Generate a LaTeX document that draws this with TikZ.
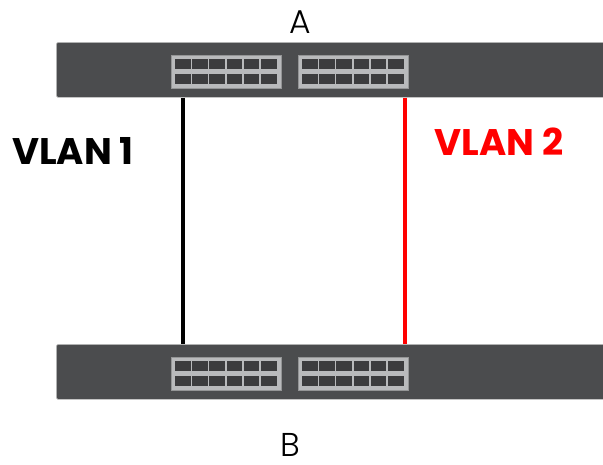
\documentclass[tikz,border=0pt]{standalone}
\usepackage{fontspec}
\setmainfont{Poppins}
\newfontfamily\lightfont{Poppins Light}
\usetikzlibrary{calc}
\definecolor{swgray}{HTML}{4B4C4E}
\definecolor{blkgray}{HTML}{B9BABC}
\definecolor{portgray}{HTML}{3C3C3E}
\tikzset{
switchbox/.style={fill=swgray,draw=black!22,line width=0.6pt,rounded corners=1.5pt,minimum width=550pt,minimum height=55pt,anchor=north west,inner sep=0pt},
portblock/.style={fill=blkgray,draw=blkgray!80!black,line width=0.3pt},
port/.style={fill=portgray},
vlanlabel/.style={font=\fontsize{37}{40}\selectfont\bfseries},
endlabel/.style={font=\fontsize{33}{36}\selectfont\lightfont,inner sep=0pt},
}
\begin{document}
\begin{tikzpicture}[x=1pt,y=-1pt]
\useasboundingbox (0,0) rectangle (603,464);
\node[switchbox] (swA) at (56,42) {};
\node[switchbox] (swB) at (56,344) {};
\foreach \y in {55,357} {
\foreach \x in {171,298} {
\draw[portblock] (\x,\y) rectangle ++(110,33);
\foreach \c in {0,...,5} {
\fill[port] ({\x+4+17.2*\c},\y+4) rectangle ++(15.5,9.5);
\fill[port] ({\x+4+17.2*\c},\y+19) rectangle ++(15.5,9.5);
}
}
}
\node[endlabel] (labA) at (300,22) {A};
\node[endlabel] (labB) at (290,445) {B};
\node[vlanlabel] (vlan1) at (73,151) {VLAN 1};
\node[vlanlabel,text=red] (vlan2) at (499,142) {VLAN 2};
\coordinate (p1) at (183,0);
\coordinate (p2) at (405,0);
\draw[line width=3.5pt] (swA.south -| p1) -- (swB.north -| p1);
\draw[red,line width=3.5pt] (swA.south -| p2) -- (swB.north -| p2);
\end{tikzpicture}
\end{document}
